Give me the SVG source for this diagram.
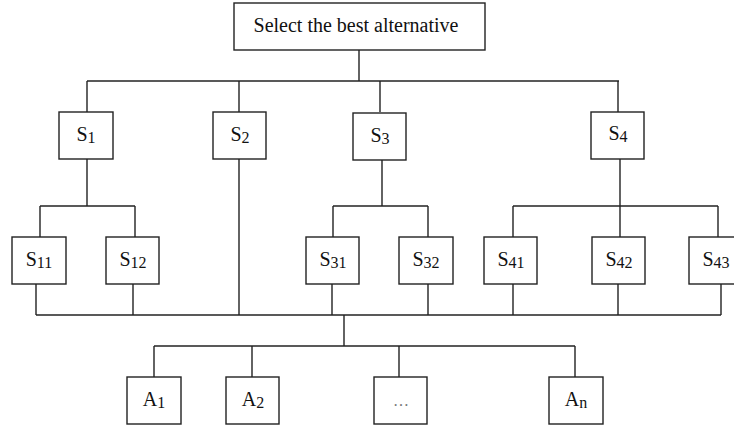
<svg xmlns="http://www.w3.org/2000/svg" width="734" height="425" viewBox="0 0 734 425">
<style>
.n rect{fill:#fff;stroke:#222;stroke-width:1.4}
.c line{stroke:#222;stroke-width:1.4}
text{font-family:"Liberation Serif","Times New Roman",serif;font-size:20px;fill:#111;text-anchor:middle}
.sub{font-size:16px}
.dots{fill:#777;font-size:16px}
</style>
<rect width="734" height="425" fill="#fff"/>
<g class="c" id="connectors">
<line x1="359" y1="50" x2="359" y2="81"/>
<line x1="87" y1="81" x2="619" y2="81"/>
<line x1="87" y1="81" x2="87" y2="112"/>
<line x1="239" y1="81" x2="239" y2="112"/>
<line x1="380" y1="81" x2="380" y2="112"/>
<line x1="618" y1="81" x2="618" y2="112"/>
<line x1="87" y1="159" x2="87" y2="206"/>
<line x1="40" y1="206" x2="135" y2="206"/>
<line x1="40" y1="206" x2="40" y2="237"/>
<line x1="135" y1="206" x2="135" y2="237"/>
<line x1="239" y1="159" x2="239" y2="315"/>
<line x1="382" y1="159" x2="382" y2="206"/>
<line x1="333" y1="206" x2="428" y2="206"/>
<line x1="333" y1="206" x2="333" y2="237"/>
<line x1="428" y1="206" x2="428" y2="237"/>
<line x1="620" y1="159" x2="620" y2="206"/>
<line x1="513" y1="206" x2="718" y2="206"/>
<line x1="513" y1="206" x2="513" y2="237"/>
<line x1="620" y1="206" x2="620" y2="237"/>
<line x1="718" y1="206" x2="718" y2="237"/>
<line x1="36" y1="284" x2="36" y2="315"/>
<line x1="133" y1="284" x2="133" y2="315"/>
<line x1="332" y1="284" x2="332" y2="315"/>
<line x1="428" y1="284" x2="428" y2="315"/>
<line x1="513" y1="284" x2="513" y2="315"/>
<line x1="618" y1="284" x2="618" y2="315"/>
<line x1="721" y1="284" x2="721" y2="315"/>
<line x1="36" y1="315" x2="721" y2="315"/>
<line x1="344" y1="315" x2="344" y2="346"/>
<line x1="154" y1="346" x2="575" y2="346"/>
<line x1="154" y1="346" x2="154" y2="377"/>
<line x1="252" y1="346" x2="252" y2="377"/>
<line x1="399" y1="346" x2="399" y2="377"/>
<line x1="575" y1="346" x2="575" y2="377"/>
</g>
<g class="n" id="top"><rect x="234" y="3" width="251" height="47"/><text x="356" y="32">Select the best alternative</text></g>
<g class="n" id="S1"><rect x="59" y="112" width="54" height="47"/><text x="86" y="141">S<tspan class="sub" dy="2">1</tspan></text></g>
<g class="n" id="S2"><rect x="213" y="112" width="53" height="47"/><text x="240" y="141">S<tspan class="sub" dy="2">2</tspan></text></g>
<g class="n" id="S3"><rect x="353" y="113" width="53" height="47"/><text x="380" y="142">S<tspan class="sub" dy="2">3</tspan></text></g>
<g class="n" id="S4"><rect x="591" y="112" width="53" height="47"/><text x="618" y="140">S<tspan class="sub" dy="2">4</tspan></text></g>
<g class="n" id="S11"><rect x="12" y="237" width="54" height="47"/><text x="39" y="266">S<tspan class="sub" dy="2">11</tspan></text></g>
<g class="n" id="S12"><rect x="106" y="237" width="53" height="47"/><text x="133" y="266">S<tspan class="sub" dy="2">12</tspan></text></g>
<g class="n" id="S31"><rect x="306" y="237" width="53" height="47"/><text x="333" y="266">S<tspan class="sub" dy="2">31</tspan></text></g>
<g class="n" id="S32"><rect x="399" y="237" width="54" height="47"/><text x="426" y="266">S<tspan class="sub" dy="2">32</tspan></text></g>
<g class="n" id="S41"><rect x="484" y="237" width="53" height="47"/><text x="511" y="266">S<tspan class="sub" dy="2">41</tspan></text></g>
<g class="n" id="S42"><rect x="592" y="237" width="53" height="47"/><text x="619" y="266">S<tspan class="sub" dy="2">42</tspan></text></g>
<g class="n" id="S43"><rect x="689" y="237" width="54" height="47"/><text x="716" y="266">S<tspan class="sub" dy="2">43</tspan></text></g>
<g class="n" id="A1"><rect x="127" y="377" width="54" height="47"/><text x="154" y="406">A<tspan class="sub" dy="2">1</tspan></text></g>
<g class="n" id="A2"><rect x="226" y="377" width="53" height="47"/><text x="253" y="406">A<tspan class="sub" dy="2">2</tspan></text></g>
<g class="n" id="Adots"><rect x="374" y="377" width="53" height="47"/><text class="dots" x="401" y="406">…</text></g>
<g class="n" id="An"><rect x="549" y="377" width="54" height="47"/><text x="576" y="406">A<tspan class="sub" dy="2">n</tspan></text></g>
</svg>
